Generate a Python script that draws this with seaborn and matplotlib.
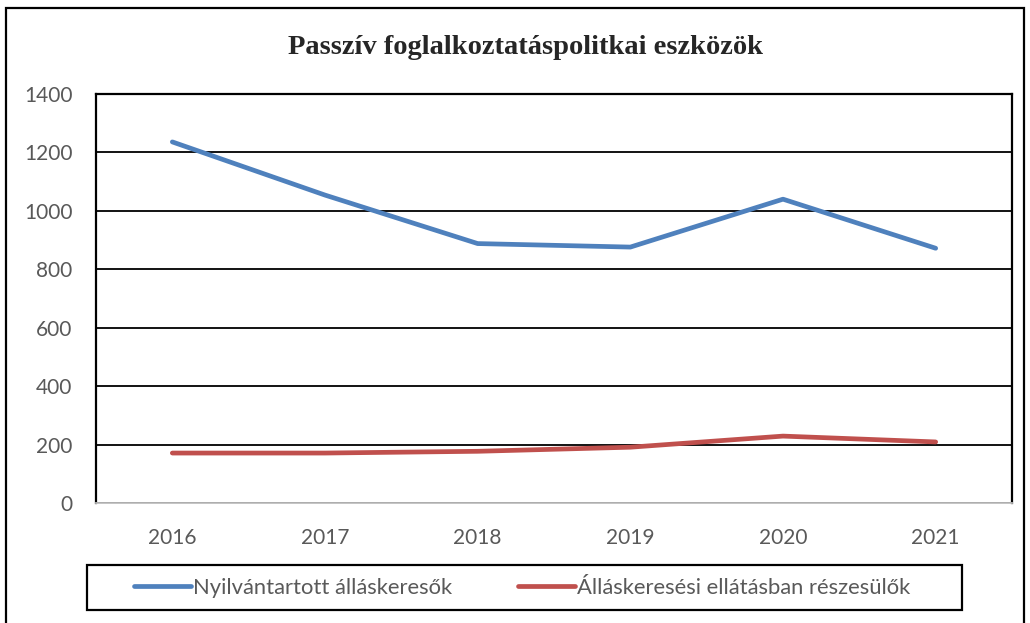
import seaborn as sns
import pandas as pd
import numpy as np
import matplotlib.pyplot as plt
from matplotlib.patches import Rectangle

years = ['2016', '2017', '2018', '2019', '2020', '2021']
nyilvantartott = [1236, 1054, 888, 876, 1040, 872]
ellatasban = [171, 171, 177, 191, 229, 209]
series_names = ['Nyilvántartott álláskeresők', 'Álláskeresési ellátásban részesülők']
colors = ['#4F81BD', '#C0504D']

df = pd.DataFrame({'év': years * 2,
                   'érték': nyilvantartott + ellatasban,
                   'sorozat': [series_names[0]] * 6 + [series_names[1]] * 6})

sns.set_style('white')
plt.rcParams['font.family'] = ['Lato', 'DejaVu Sans']

fig = plt.figure(figsize=(10.3, 6.23), dpi=100)
ax = fig.add_axes([96 / 1030, 1 - 503 / 623, 916 / 1030, 409 / 623])

sns.lineplot(data=df, x='év', y='érték', hue='sorozat', palette=colors,
             linewidth=3.4, ax=ax, sort=False)
for line in ax.lines:
    line.set_solid_capstyle('round')
    line.set_solid_joinstyle('round')

ax.set_xlim(-0.5, 5.5)
ax.set_ylim(0, 1400)
ax.set_yticks(np.arange(0, 1401, 200))
ax.yaxis.grid(True, color='black', linewidth=1.3)
ax.set_axisbelow(True)
ax.set_xlabel('')
ax.set_ylabel('')
ax.tick_params(axis='both', length=0, labelsize=15, colors='#595959')
ax.tick_params(axis='y', pad=17)
ax.tick_params(axis='x', pad=18)
for side in ['left', 'right', 'top']:
    ax.spines[side].set_color('black')
    ax.spines[side].set_linewidth(1.6)
ax.spines['bottom'].set_color('#BFBFBF')
ax.spines['bottom'].set_linewidth(1.3)

handles, labels = ax.get_legend_handles_labels()
ax.legend_.remove()
leg = fig.legend(handles, labels, loc='center', ncol=2,
                 bbox_to_anchor=(522 / 1030, 1 - 588 / 623),
                 fontsize=15.8, frameon=False,
                 handlelength=2.6, handletextpad=0.1, columnspacing=3.0)
for t in leg.get_texts():
    t.set_color('#595959')
fig.patches.append(Rectangle((87 / 1030, 1 - 610 / 623), 875 / 1030, 45 / 623,
                             transform=fig.transFigure, fill=False,
                             edgecolor='black', linewidth=1.6))

fig.text(525 / 1030, 1 - 47 / 623, 'Passzív foglalkoztatáspolitkai eszközök',
         ha='center', va='center', fontsize=20.5, fontweight='bold',
         family='Liberation Serif')

fig.patches.append(Rectangle((6 / 1030, -0.01), 1018 / 1030, 1 - 8 / 623 + 0.01,
                             transform=fig.transFigure, fill=False,
                             edgecolor='black', linewidth=1.6))

fig.savefig('out.png', dpi=100)
